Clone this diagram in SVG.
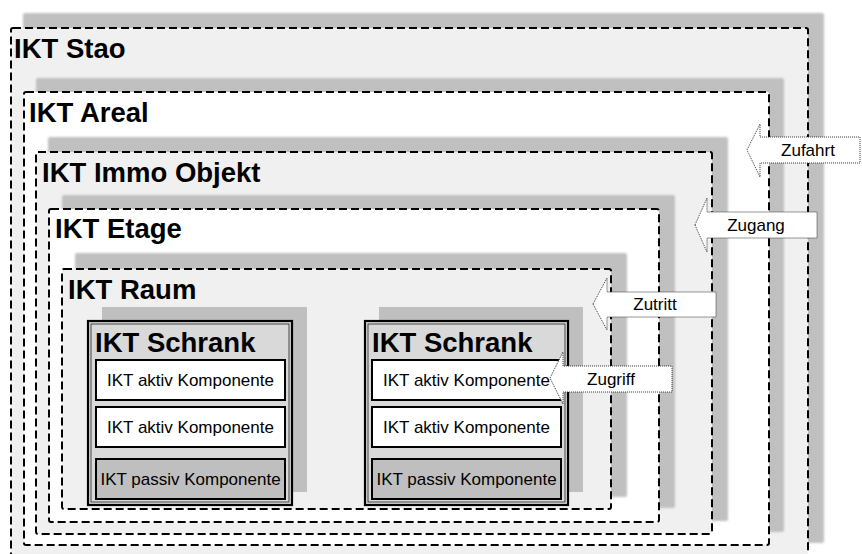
<svg xmlns="http://www.w3.org/2000/svg" width="862" height="554" viewBox="0 0 862 554">
<defs>
<filter id="soft" x="-5%" y="-5%" width="110%" height="110%"><feGaussianBlur stdDeviation="0.8"/></filter>
</defs>
<style>
.shadow{fill:#c0c0c0;filter:url(#soft)}
.zone{stroke:#000;stroke-width:2;stroke-dasharray:8 4}
.grey{fill:#f0f0f0}
.white{fill:#fff}
.title{font-family:"Liberation Sans",Arial,sans-serif;font-weight:bold;font-size:27.5px;fill:#000}
.sshadow{fill:#bfbfbf}
.schrank{fill:#d9d9d9;stroke:#000;stroke-width:2.2}
.inner{fill:none;stroke:#222;stroke-width:0.8}
.komp{fill:#fff;stroke:#000;stroke-width:2}
.passiv{fill:#bfbfbf;stroke:#000;stroke-width:2}
.lbl{font-family:"Liberation Sans",Arial,sans-serif;font-size:17px;fill:#000;text-anchor:middle}
.arrow{fill:#fff;stroke:#333;stroke-width:1;stroke-dasharray:1 1}
</style>
<rect width="862" height="554" fill="#fff"/>
<g id="stao">
<rect class="shadow" x="23" y="13" width="801" height="530" rx="2"/>
<rect class="zone grey" x="11" y="28" width="797" height="540" rx="2"/>
<text class="title" x="14" y="58">IKT Stao</text>
</g>
<g id="areal">
<rect class="shadow" x="36" y="78" width="748" height="454" rx="2"/>
<rect class="zone white" x="24" y="92" width="745" height="453" rx="2"/>
<text class="title" x="29" y="122">IKT Areal</text>
</g>
<g id="immo">
<rect class="shadow" x="48" y="137" width="680" height="384" rx="2"/>
<rect class="zone grey" x="36" y="152" width="676" height="382" rx="2"/>
<text class="title" x="42" y="182">IKT Immo Objekt</text>
</g>
<g id="etage">
<rect class="shadow" x="62" y="195" width="613" height="313" rx="2"/>
<rect class="zone white" x="49" y="209" width="610" height="313" rx="2"/>
<text class="title" x="55" y="238">IKT Etage</text>
</g>
<g id="raum">
<rect class="shadow" x="75" y="253" width="552" height="244" rx="2"/>
<rect class="zone grey" x="62" y="269" width="549" height="240" rx="2"/>
<text class="title" x="68" y="299">IKT Raum</text>
</g>
<g id="schrank1">
<rect class="sshadow" x="102" y="307" width="205" height="185"/>
<rect class="schrank" x="88" y="321" width="204" height="184"/>
<rect class="inner" x="91" y="324" width="198" height="178"/>
<text class="title" x="95" y="352">IKT Schrank</text>
<rect class="komp" x="96" y="360" width="189" height="40"/>
<text class="lbl" x="190.5" y="386">IKT aktiv Komponente</text>
<rect class="komp" x="96" y="407" width="189" height="40"/>
<text class="lbl" x="190.5" y="433">IKT aktiv Komponente</text>
<rect class="passiv" x="96" y="459" width="189" height="40"/>
<text class="lbl" x="190.5" y="485">IKT passiv Komponente</text>
</g>
<g id="schrank2">
<rect class="sshadow" x="379" y="307" width="204" height="185"/>
<rect class="schrank" x="365" y="321" width="203" height="184"/>
<rect class="inner" x="368" y="324" width="197" height="178"/>
<text class="title" x="372" y="352">IKT Schrank</text>
<rect class="komp" x="372" y="360" width="189" height="40"/>
<text class="lbl" x="466.5" y="386">IKT aktiv Komponente</text>
<rect class="komp" x="372" y="407" width="189" height="40"/>
<text class="lbl" x="466.5" y="433">IKT aktiv Komponente</text>
<rect class="passiv" x="372" y="459" width="189" height="40"/>
<text class="lbl" x="466.5" y="485">IKT passiv Komponente</text>
</g>
<g id="connectors">
<g id="zufahrt">
<polygon class="arrow" points="747,150 760,124 760,137 860,137 860,163 760,163 760,177"/>
<text class="lbl" x="808" y="156">Zufahrt</text>
</g>
<g id="zugang">
<polygon class="arrow" points="695,225 707,198 707,212 817,212 817,238 707,238 707,252"/>
<text class="lbl" x="756" y="231">Zugang</text>
</g>
<g id="zutritt">
<polygon class="arrow" points="593,304 607,278 607,292 716,292 716,317 607,317 607,330"/>
<text class="lbl" x="655" y="310">Zutritt</text>
</g>
<g id="zugriff">
<polygon class="arrow" points="550,378 563,352 563,366 672,366 672,392 563,392 563,404"/>
<text class="lbl" x="611" y="385">Zugriff</text>
</g>
</g>
</svg>
